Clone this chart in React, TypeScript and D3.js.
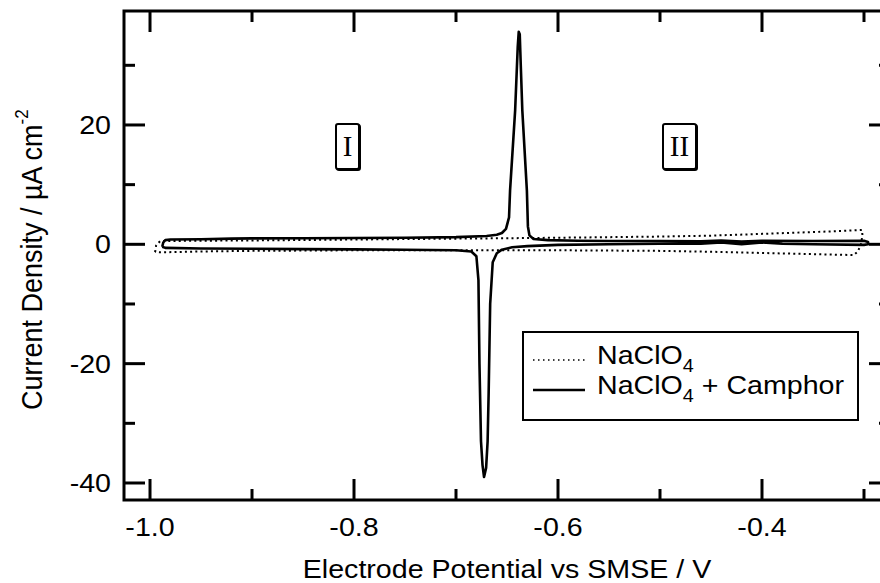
import React from "react";
import * as d3 from "d3";

// ---- data ----
const dottedV = [-0.995, -0.994, -0.99, -0.95, -0.9, -0.85, -0.8, -0.75, -0.7, -0.65, -0.6, -0.55, -0.5, -0.45, -0.4, -0.35, -0.32, -0.302, -0.3015, -0.303, -0.306, -0.31, -0.35, -0.4, -0.45, -0.5, -0.55, -0.6, -0.65, -0.7, -0.75, -0.8, -0.85, -0.9, -0.95, -0.99, -0.995];
const dottedJ = [-1.3, -0.2, 0.55, 0.6, 0.65, 0.72, 0.8, 0.88, 0.95, 1.02, 1.1, 1.2, 1.3, 1.45, 1.75, 2.05, 2.25, 2.4, 1.5, 0.0, -1.2, -1.8, -1.65, -1.45, -1.25, -1.1, -1.05, -1.0, -1.0, -1.0, -1.0, -1.0, -1.05, -1.1, -1.2, -1.35, -1.3];

const solidV = [-0.988, -0.987, -0.985, -0.98, -0.95, -0.92, -0.9, -0.85, -0.8, -0.75, -0.7, -0.67, -0.66, -0.655, -0.651, -0.648, -0.647, -0.642, -0.6395, -0.6385, -0.6375, -0.6365, -0.635, -0.6305, -0.6295, -0.628, -0.624, -0.61, -0.58, -0.55, -0.5, -0.46, -0.44, -0.42, -0.4, -0.35, -0.3, -0.296, -0.296,
  -0.3, -0.35, -0.38, -0.4, -0.42, -0.44, -0.46, -0.5, -0.55, -0.6, -0.63, -0.645, -0.655, -0.66, -0.664, -0.6665, -0.668, -0.669, -0.6705, -0.6725, -0.674, -0.6755, -0.677, -0.678, -0.68, -0.685, -0.7, -0.75, -0.8, -0.85, -0.9, -0.95, -0.985, -0.988];
const solidJ = [-0.4, 0.3, 0.7, 0.8, 0.85, 0.95, 1.0, 1.02, 1.05, 1.1, 1.2, 1.4, 1.6, 1.9, 2.6, 4.5, 9, 22.5, 33, 35.6, 35.2, 30, 22.5, 9, 3, 1.5, 0.9, 0.7, 0.6, 0.55, 0.55, 0.5, 0.65, 0.45, 0.6, 0.55, 0.6, 0.4, 0.0,
  -0.1, 0.0, 0.1, 0.3, 0.0, 0.3, 0.1, 0.1, 0.0, -0.1, -0.3, -0.5, -0.9, -1.5, -3, -10, -25, -33, -37.5, -39, -37, -33, -20, -6, -2.0, -1.2, -1.0, -0.9, -0.85, -0.8, -0.75, -0.7, -0.6, -0.4];

const xMajorTicks = [-1.0, -0.8, -0.6, -0.4];
const xMinorTicks = [-0.9, -0.7, -0.5, -0.3];
const xTickLabels = ["-1.0", "-0.8", "-0.6", "-0.4"];
const yMajorTicks = [-40, -20, 0, 20];
const yMinorTicks = [-30, -10, 10, 30];
const yTickLabels = ["-40", "-20", "0", "20"];

const W = 880, H = 583;
const L = 124, R = 890, T = 11, B = 500;
const SANS = "'Liberation Sans', Arial, sans-serif";
const SERIF = "'Liberation Serif', 'Times New Roman', serif";
const FS = 26;
const SX = 1.1;

export default function App() {
  const x = d3.scaleLinear().domain([-1.0255, -0.2745]).range([L, R]);
  const y = d3.scaleLinear().domain([-42.85, 39.1]).range([B, T]);
  const line = d3.line<[number, number]>().x(d => x(d[0])).y(d => y(d[1]));
  const dotted = line(dottedV.map((v, i) => [v, dottedJ[i]]) as [number, number][]) || "";
  const solid = line(solidV.map((v, i) => [v, solidJ[i]]) as [number, number][]) || "";
  const MAJ = 21, MIN = 11;

  const hText = (tx: number, ty: number, anchor: string, content: React.ReactNode, key?: any) => (
    <text key={key} transform={`translate(${tx},${ty}) scale(${SX},1)`} textAnchor={anchor} fontFamily={SANS} fontSize={FS} fill="#000">{content}</text>
  );

  const boxLabel = (cx: number, x0: number, x1: number, label: string) => (
    <g>
      <rect x={x0 + 1} y={125} width={x1 - x0} height={45} rx={2} fill="none" stroke="#000" strokeWidth={2} />
      <rect x={x0} y={124} width={x1 - x0} height={45} rx={2} fill="#fff" stroke="#000" strokeWidth={2} />
      <text x={cx} y={156} textAnchor="middle" fontFamily={SERIF} fontSize={29}>{label}</text>
    </g>
  );

  return (
    <svg width={W} height={H} style={{ position: "absolute", left: 0, top: 0, background: "#fff" }}>
      <defs>
        <clipPath id="plot"><rect x={L} y={T} width={R - L} height={B - T} /></clipPath>
      </defs>
      <rect x={0} y={0} width={W} height={H} fill="#fff" />
      {/* region labels */}
      {boxLabel(347.5, 336, 359, "I")}
      {boxLabel(679.5, 663, 696, "II")}
      {/* data */}
      <g clipPath="url(#plot)">
        <path d={dotted} fill="none" stroke="#000" strokeWidth={2} strokeDasharray="2 3.2" />
        <path d={solid} fill="none" stroke="#000" strokeWidth={2.6} strokeLinejoin="round" />
      </g>
      {/* frame */}
      <rect x={L} y={T} width={R - L} height={B - T} fill="none" stroke="#000" strokeWidth={3} />
      {/* x ticks */}
      {xMajorTicks.map(v => (
        <g key={"xm" + v}>
          <line x1={x(v)} x2={x(v)} y1={B} y2={B - MAJ} stroke="#000" strokeWidth={3} />
          <line x1={x(v)} x2={x(v)} y1={T} y2={T + MAJ} stroke="#000" strokeWidth={3} />
        </g>
      ))}
      {xMinorTicks.map(v => (
        <g key={"xn" + v}>
          <line x1={x(v)} x2={x(v)} y1={B} y2={B - MIN} stroke="#000" strokeWidth={3} />
          <line x1={x(v)} x2={x(v)} y1={T} y2={T + MIN} stroke="#000" strokeWidth={3} />
        </g>
      ))}
      {/* y ticks */}
      {yMajorTicks.map(v => (
        <g key={"ym" + v}>
          <line x1={L} x2={L + MAJ} y1={y(v)} y2={y(v)} stroke="#000" strokeWidth={3} />
          <line x1={R} x2={R - MAJ} y1={y(v)} y2={y(v)} stroke="#000" strokeWidth={3} />
        </g>
      ))}
      {yMinorTicks.map(v => (
        <g key={"yn" + v}>
          <line x1={L} x2={L + MIN} y1={y(v)} y2={y(v)} stroke="#000" strokeWidth={3} />
          <line x1={R} x2={R - MIN} y1={y(v)} y2={y(v)} stroke="#000" strokeWidth={3} />
        </g>
      ))}
      {/* tick labels */}
      {xMajorTicks.map((v, i) => hText(x(v), 536, "middle", xTickLabels[i], "xl" + i))}
      {yMajorTicks.map((v, i) => hText(111, y(v) + 9, "end", yTickLabels[i], "yl" + i))}
      {/* axis titles */}
      {hText((L + 880) / 2 + 5, 578, "middle", "Electrode Potential vs SMSE / V")}
      <text transform="translate(42,410) scale(1.1,1) rotate(-90)" fontFamily={SANS} fontSize={27} textAnchor="start">
        Current Density / µA cm<tspan dy={-13} fontSize={17}>-2</tspan>
      </text>
      {/* legend */}
      <rect x={523} y={332} width={335} height={88} fill="#fff" stroke="#000" strokeWidth={2} />
      <line x1={533} x2={585} y1={360} y2={360} stroke="#000" strokeWidth={1.5} strokeDasharray="1.5 3.5" />
      <line x1={533} x2={585} y1={390} y2={390} stroke="#000" strokeWidth={2.6} />
      {hText(597, 364, "start", <>NaClO<tspan dy={8} fontSize={18}>4</tspan></>)}
      {hText(597, 394, "start", <>NaClO<tspan dy={8} fontSize={18}>4</tspan><tspan dy={-8}> + Camphor</tspan></>)}
    </svg>
  );
}
